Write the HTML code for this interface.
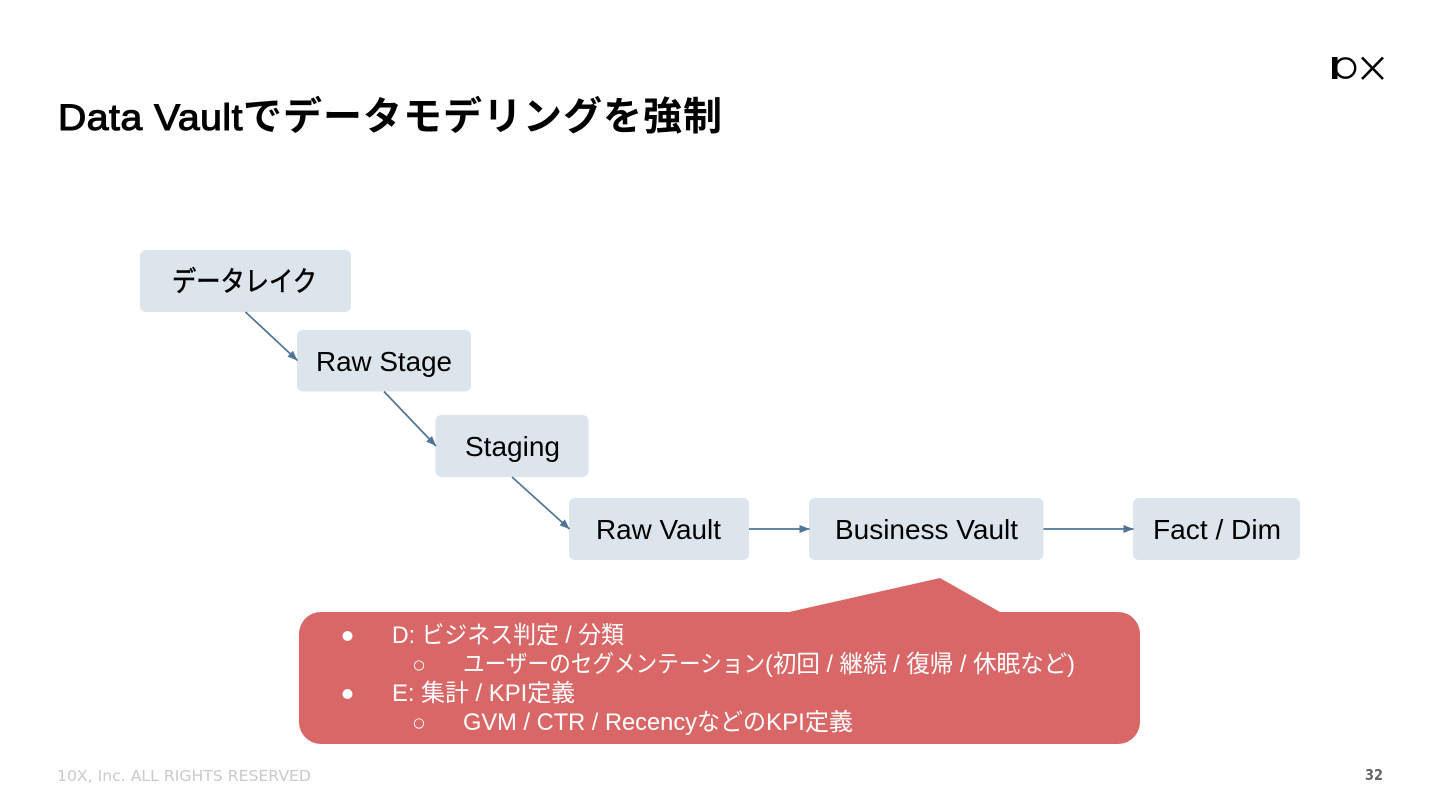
<!DOCTYPE html>
<html lang="ja">
<head>
<meta charset="utf-8">
<title>Data Vaultでデータモデリングを強制</title>
<style>
html,body{margin:0;padding:0;background:#fff;width:1440px;height:810px;overflow:hidden}
svg{display:block}
text{font-family:"Liberation Sans","Noto Sans CJK JP",sans-serif}
.n{font-size:27.7px;fill:#000}
.b{font-size:23.7px;fill:#fff}
</style>
</head>
<body>
<svg width="1440" height="810" viewBox="0 0 1440 810" xmlns="http://www.w3.org/2000/svg">
<defs>
<marker id="a" markerUnits="userSpaceOnUse" markerWidth="11" markerHeight="9" refX="10" refY="4" orient="auto">
<path d="M0 0L10 4L0 8Z" fill="#4f7496"/>
</marker>
</defs>
<rect width="1440" height="810" fill="#fff"/>

<text x="58" y="130" font-size="37" fill="#000" stroke="#000" stroke-width="1.100" textLength="185" lengthAdjust="spacingAndGlyphs" style="letter-spacing:0.5px">Data Vault</text>
<text x="243" y="130" font-size="39" font-weight="700" fill="#000" textLength="479" lengthAdjust="spacing">でデータモデリングを強制</text>

<rect x="1332" y="57" width="5.500" height="22" fill="#000"/>
<circle cx="1345.500" cy="68" r="9.700" fill="none" stroke="#000" stroke-width="2.400"/>
<path d="M1362 57.500L1383 79M1383 57.500L1362 79" stroke="#000" stroke-width="2.600" fill="none"/>

<g fill="#dce4ec">
<rect x="140" y="250" width="211" height="62" rx="6"/>
<rect x="297" y="330" width="174" height="61.500" rx="6"/>
<rect x="435.500" y="415" width="153" height="62" rx="6"/>
<rect x="569" y="498" width="180" height="62" rx="6"/>
<rect x="809" y="498" width="234.500" height="62" rx="6"/>
<rect x="1133" y="498" width="167" height="62" rx="6"/>
</g>

<g stroke="#4f7496" stroke-width="1.700" fill="none">
<path d="M245.500 312L297.500 360.500" marker-end="url(#a)"/>
<path d="M384 391.500L436 446" marker-end="url(#a)"/>
<path d="M512 477L569.500 529" marker-end="url(#a)"/>
<path d="M749 529L809.500 529" marker-end="url(#a)"/>
<path d="M1043.500 529L1133.500 529" marker-end="url(#a)"/>
</g>

<text class="n" x="172" y="291" stroke="#000" stroke-width="0.600" textLength="145" lengthAdjust="spacingAndGlyphs">データレイク</text>
<text class="n" x="316" y="371" textLength="136" lengthAdjust="spacingAndGlyphs">Raw Stage</text>
<text class="n" x="465" y="456" textLength="95" lengthAdjust="spacingAndGlyphs">Staging</text>
<text class="n" x="596" y="539" textLength="125" lengthAdjust="spacingAndGlyphs">Raw Vault</text>
<text class="n" x="835" y="539" textLength="183" lengthAdjust="spacingAndGlyphs">Business Vault</text>
<text class="n" x="1153" y="539" textLength="128" lengthAdjust="spacingAndGlyphs">Fact / Dim</text>

<path d="M321 612H789L940 578L1000 612H1118A22 22 0 0 1 1140 634V722A22 22 0 0 1 1118 744H321A22 22 0 0 1 299 722V634A22 22 0 0 1 321 612Z" fill="#da6767"/>

<circle cx="347.500" cy="636" r="5" fill="#fff"/>
<circle cx="347.500" cy="694" r="5" fill="#fff"/>
<circle cx="419" cy="665.500" r="4.700" fill="none" stroke="#fff" stroke-width="0.900"/>
<circle cx="419" cy="723.500" r="4.700" fill="none" stroke="#fff" stroke-width="0.900"/>

<text class="b" x="392" y="643" textLength="232" lengthAdjust="spacingAndGlyphs">D: ビジネス判定 / 分類</text>
<text class="b" x="463" y="672" textLength="302" lengthAdjust="spacingAndGlyphs">ユーザーのセグメンテーション</text>
<text class="b" x="765" y="672" textLength="310" lengthAdjust="spacingAndGlyphs">(初回 / 継続 / 復帰 / 休眠など)</text>
<text class="b" x="392" y="701" textLength="183" lengthAdjust="spacingAndGlyphs">E: 集計 / KPI定義</text>
<text class="b" x="463" y="730" textLength="234" lengthAdjust="spacingAndGlyphs">GVM / CTR / Recency</text>
<text class="b" x="697" y="730" textLength="69" lengthAdjust="spacingAndGlyphs">などの</text>
<text class="b" x="766" y="730" textLength="87" lengthAdjust="spacingAndGlyphs">KPI定義</text>

<text x="57" y="781" font-size="15" fill="#cacaca" style="font-family:'DejaVu Sans',sans-serif" textLength="254" lengthAdjust="spacingAndGlyphs">10X, Inc. ALL RIGHTS RESERVED</text>
<text x="1365" y="780" font-size="15" font-weight="700" fill="#666" style="font-family:'DejaVu Sans',sans-serif" textLength="18" lengthAdjust="spacingAndGlyphs">32</text>
</svg>
</body>
</html>
